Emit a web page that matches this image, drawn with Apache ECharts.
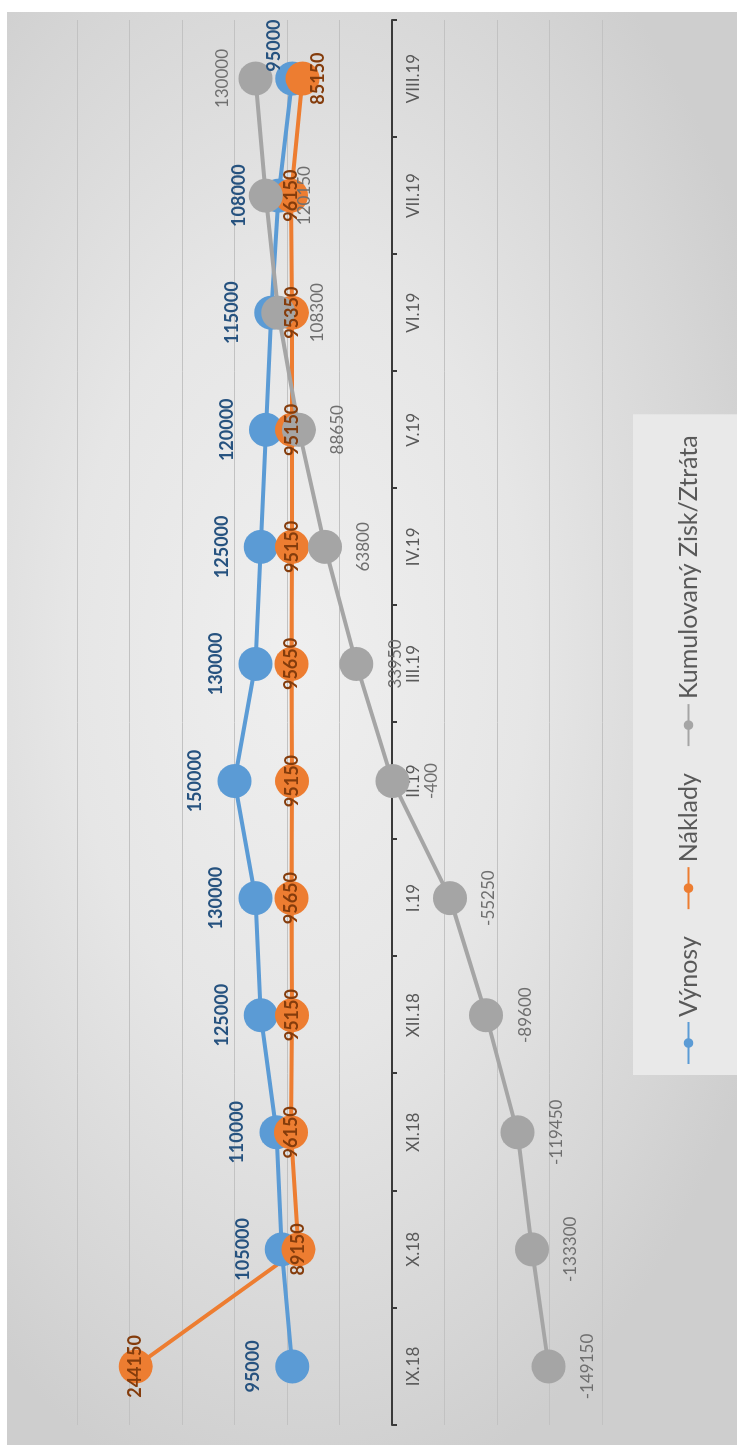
<!DOCTYPE html>
<html>
<head>
<meta charset="utf-8">
<script src="https://cdn.jsdelivr.net/npm/echarts@6/dist/echarts.min.js"></script>
<style>
  html, body { margin: 0; padding: 0; background: #ffffff; width: 737px; height: 1445px; overflow: hidden; }
  #bg {
    position: absolute; left: 7px; top: 12px; width: 730px; height: 1433px;
    background: radial-gradient(ellipse 70% 60% at 40% 45%, #efefef 0%, #e6e6e6 45%, #d5d5d5 85%, #cecece 100%);
  }
  /* chart is laid out landscape and turned a quarter turn counter-clockwise */
  #chart {
    position: absolute; left: 0; top: 0; width: 1433px; height: 730px;
    transform-origin: 0 0; transform: translate(7px, 1445px) rotate(-90deg);
  }
</style>
</head>
<body>
<div id="bg"></div>
<div id="chart"></div>
<script>
const categories = ['IX.18', 'X.18', 'XI.18', 'XII.18', 'I.19', 'II.19', 'III.19', 'IV.19', 'V.19', 'VI.19', 'VII.19', 'VIII.19'];
const vynosy = [95000, 105000, 110000, 125000, 130000, 150000, 130000, 125000, 120000, 115000, 108000, 95000];
const naklady = [244150, 89150, 96150, 95150, 95650, 95150, 95650, 95150, 95150, 95350, 96150, 85150];
const kumulovany = [-149150, -133300, -119450, -89600, -55250, -400, 33950, 63800, 88650, 108300, 120150, 130000];
const seriesNames = ['Výnosy', 'Náklady', 'Kumulovaný Zisk/Ztráta'];

const valueMin = -200000;
const valueMax = 300000;
const valueStep = 50000;

const FONT = 'Lato, "Liberation Sans", sans-serif';
const last = categories.length - 1;

const chartEl = document.getElementById('chart');
const gridBox = { left: 20, right: 8, top: 70, bottom: 135 };
const plotHeight = chartEl.clientHeight - gridBox.top - gridBox.bottom;
// the category axis (line, ticks and labels) sits on the zero value line
const zeroShift = -plotHeight * (0 - valueMin) / (valueMax - valueMin);

// per-point label placement: most labels share one offset, the final month is nudged
function withLabels(values, baseOffset, lastOffset) {
  return values.map(function (v, i) {
    return {
      value: v,
      label: { offset: i === last ? lastOffset : baseOffset }
    };
  });
}

function lineSeries(name, values, color, labelColor, bold, baseOffset, lastOffset) {
  return {
    name: name,
    type: 'line',
    data: withLabels(values, baseOffset, lastOffset),
    symbol: 'circle',
    symbolSize: 34,
    lineStyle: { color: color, width: 4 },
    itemStyle: { color: color },
    label: {
      show: true,
      position: 'inside',
      color: labelColor,
      fontFamily: FONT,
      fontSize: bold ? 18 : 17,
      fontWeight: bold ? 'bold' : 'normal'
    },
    emphasis: { disabled: true },
    animation: false
  };
}

const chart = echarts.init(chartEl, null, { renderer: 'canvas' });
chart.setOption({
  backgroundColor: 'transparent',
  animation: false,
  grid: Object.assign({ containLabel: false }, gridBox),
  xAxis: {
    type: 'category',
    data: categories,
    boundaryGap: true,
    offset: zeroShift,
    axisLine: { show: true, onZero: false, lineStyle: { color: '#3a3a3a', width: 2 } },
    axisTick: { show: true, length: 5, lineStyle: { color: '#3a3a3a', width: 2 } },
    axisLabel: { color: '#595959', fontFamily: FONT, fontSize: 17, margin: 13 },
    splitLine: { show: false }
  },
  yAxis: {
    type: 'value',
    min: valueMin,
    max: valueMax,
    interval: valueStep,
    axisLine: { show: false },
    axisTick: { show: false },
    axisLabel: { show: false },
    splitLine: { show: true, lineStyle: { color: '#c2c2c2', width: 1 } }
  },
  legend: {
    data: seriesNames,
    left: 370,
    top: 626,
    padding: [43, 21, 60, 10],
    backgroundColor: '#e9e9e9',
    itemGap: 26,
    itemWidth: 42,
    itemHeight: 12,
    textStyle: { color: '#595959', fontFamily: FONT, fontSize: 25 }
  },
  series: [
    lineSeries(seriesNames[0], vynosy, '#5B9BD5', '#26527f', true, [0, -39], [33, -18]),
    lineSeries(seriesNames[1], naklady, '#ED7D31', '#843C0C', true, [0, 0], [0, 16]),
    lineSeries(seriesNames[2], kumulovany, '#A5A5A5', '#6f6f6f', false, [0, 39], [0, -33])
  ]
});
</script>
</body>
</html>
